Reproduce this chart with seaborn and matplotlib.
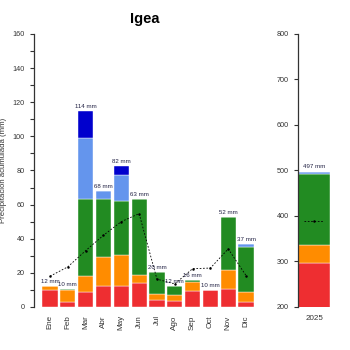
import numpy as np
import pandas as pd
import seaborn as sns
import matplotlib.pyplot as plt
from matplotlib.ticker import MultipleLocator

# datos
meses = ["Ene", "Feb", "Mar", "Abr", "May", "Jun", "Jul", "Ago", "Sep", "Oct", "Nov", "Dic"]
rojo = [10, 3, 9, 12.5, 12.5, 14, 4, 3.7, 9.4, 10, 10.8, 3.1]
naranja = [2, 7, 9, 17, 18, 5, 3.5, 3.3, 5.3, 0, 10.6, 5.9]
verde = [0, 0.5, 45, 33.5, 31.5, 44.5, 13.1, 5.5, 1.2, 0, 31.4, 25.9]
celeste = [0, 0, 36, 5, 15.5, 0, 0, 0, 0, 0, 0, 2.1]
azul = [0, 0, 16, 0, 5, 0, 0, 0, 0, 0, 0, 0]
etiquetas = ["12 mm", "10 mm", "114 mm", "68 mm", "82 mm", "63 mm", "20 mm",
             "12 mm", "16 mm", "10 mm", "52 mm", "37 mm"]
media = [18, 23.5, 33, 42, 50, 54.7, 16.3, 13.5, 22.4, 22.8, 34, 18.4]

anio = ["2025"]
anual_segmentos = [297, 40, 156, 4, 0]
anual_etiqueta = "497 mm"
anual_media = 390

colores = ["#EE2E31", "#FF8C00", "#228B22", "#6495ED", "#0000CD"]

sns.set_style("ticks")
plt.rcParams['font.family'] = ['Liberation Sans', 'DejaVu Sans']
fig = plt.figure(figsize=(3.5, 3.5), dpi=100)
ax = fig.add_axes([0.097, 0.123, 0.634, 0.78])
ax2 = fig.add_axes([0.851, 0.123, 0.094, 0.78])

df = pd.DataFrame({"mes": meses, "rojo": rojo, "naranja": naranja, "verde": verde,
                   "celeste": celeste, "azul": azul})
x = np.arange(len(meses))
base = np.zeros(len(meses))
for col, c in zip(["rojo", "naranja", "verde", "celeste", "azul"], colores):
    ax.bar(x, df[col], bottom=base, width=0.85, color=c, edgecolor="white", linewidth=0.3)
    base += df[col].values

for xi, tot, lab in zip(x, base, etiquetas):
    ax.text(xi, tot + 1.2, lab, ha="center", va="bottom", fontsize=4.4, color="#222244")

sns.lineplot(x=x, y=media, ax=ax, color="black", linestyle=(0, (2, 2)), linewidth=0.6,
             marker="o", markersize=1.8, markeredgewidth=0)

ax.set_xlim(-0.9, 11.55)
ax.set_ylim(0, 160)
ax.yaxis.set_major_locator(MultipleLocator(20))
ax.yaxis.set_minor_locator(MultipleLocator(10))
ax.set_xticks(x)
ax.set_xticklabels(meses, rotation=90, fontsize=5.8, color="#333333")
ax.tick_params(axis="x", length=0, pad=6)
ax.tick_params(axis="y", which="both", labelsize=5.2, colors="#333333", length=3, width=0.8)
ax.set_ylabel("Precipitación acumulada (mm)", fontsize=5.6, color="#333333", labelpad=4)
for s in ["top", "right", "bottom"]:
    ax.spines[s].set_visible(False)
ax.spines["left"].set_linewidth(0.9)
ax.spines["left"].set_color("#333333")
ax.set_title("Igea", fontsize=10.5, fontweight="bold", color="black", pad=8)

# barra anual
b = 0
for v, c in zip(anual_segmentos, colores):
    ax2.bar([0], [v], bottom=b, width=0.97, color=c, edgecolor="white", linewidth=0.3)
    b += v
ax2.text(0, b + 6, anual_etiqueta, ha="center", va="bottom", fontsize=4.4, color="#222244")
ax2.plot([-0.3, 0.3], [anual_media, anual_media], color="black", linestyle=(0, (2, 2)),
         linewidth=0.6)
ax2.plot([0], [anual_media], "o", color="black", markersize=1.8, markeredgewidth=0)
ax2.set_xlim(-0.5, 0.5)
ax2.set_ylim(200, 800)
ax2.yaxis.set_major_locator(MultipleLocator(100))
ax2.set_xticks([0])
ax2.set_xticklabels(anio, fontsize=5.8, color="#333333")
ax2.tick_params(axis="x", length=0, pad=6)
ax2.tick_params(axis="y", labelsize=5.2, colors="#333333", length=3, width=0.8)
for s in ["top", "right", "bottom"]:
    ax2.spines[s].set_visible(False)
ax2.spines["left"].set_linewidth(0.9)
ax2.spines["left"].set_color("#333333")

fig.savefig("out.png", dpi=100)
